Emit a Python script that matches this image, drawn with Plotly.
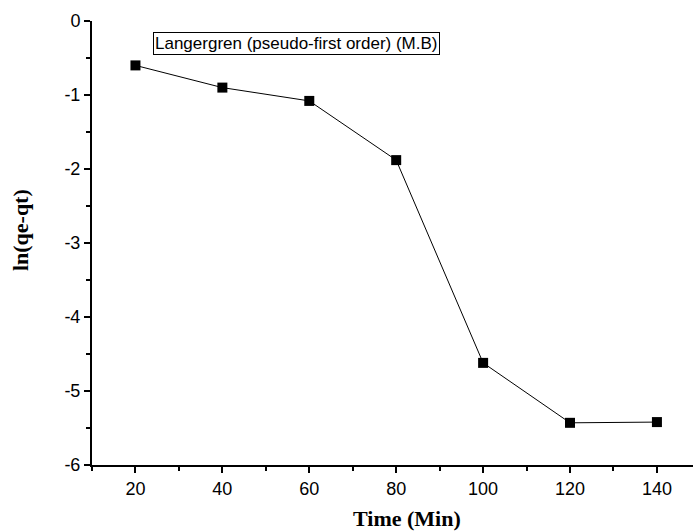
import plotly.graph_objects as go

time_min = [20, 40, 60, 80, 100, 120, 140]
ln_qe_qt = [-0.60, -0.90, -1.08, -1.88, -4.62, -5.43, -5.42]
legend_label = "Langergren (pseudo-first order) (M.B)"
x_tick_vals = [20, 40, 60, 80, 100, 120, 140]
x_tick_text = ["20", "40", "60", "80", "100", "120", "140"]
y_tick_vals = [0, -1, -2, -3, -4, -5, -6]
y_tick_text = ["0", "-1", "-2", "-3", "-4", "-5", "-6"]

fig = go.Figure()
fig.add_trace(go.Scatter(
    x=time_min, y=ln_qe_qt, mode="lines+markers",
    line=dict(color="black", width=1),
    marker=dict(symbol="square", size=10, color="black"),
    showlegend=False,
))

fig.add_annotation(
    x=0.1015, y=0.950, xref="paper", yref="paper", xanchor="left", yanchor="middle",
    text=legend_label, showarrow=False,
    font=dict(family="Arial, Liberation Sans", size=17, color="black"),
    bordercolor="black", borderwidth=1, borderpad=1, bgcolor="white",
)

title_font = dict(family="Times New Roman, Liberation Serif", size=22, color="black")
tick_font = dict(family="Arial, Liberation Sans", size=18, color="black")

fig.add_annotation(
    x=0.524, y=-0.12, xref="paper", yref="paper", xanchor="center", yanchor="middle",
    text="<b>Time (Min)</b>", showarrow=False, font=title_font,
)
fig.add_annotation(
    x=-0.1198, y=0.529, xref="paper", yref="paper", xanchor="center", yanchor="middle",
    text="<b>ln(qe-qt)</b>", showarrow=False, font=title_font, textangle=-90,
)

fig.update_layout(
    width=693, height=532,
    margin=dict(l=92, r=0, t=21, b=67),
    paper_bgcolor="white", plot_bgcolor="white",
    xaxis=dict(
        range=[10, 148.3], tickmode="array", tickvals=x_tick_vals, ticktext=x_tick_text,
        showgrid=False, zeroline=False,
        showline=True, linecolor="black", linewidth=2,
        ticks="outside", ticklen=6, tickwidth=2, tickcolor="black",
        minor=dict(ticks="outside", ticklen=4, tickwidth=2, tickcolor="black",
                   tickmode="linear", dtick=10, tick0=0, showgrid=False),
        tickfont=tick_font,
    ),
    yaxis=dict(
        range=[-6, 0], tickmode="array", tickvals=y_tick_vals, ticktext=y_tick_text,
        showgrid=False, zeroline=False,
        showline=True, linecolor="black", linewidth=2,
        ticks="outside", ticklen=6, tickwidth=2, tickcolor="black",
        minor=dict(ticks="outside", ticklen=4, tickwidth=2, tickcolor="black",
                   tickmode="linear", dtick=0.5, tick0=0, showgrid=False),
        tickfont=tick_font,
    ),
)

fig.write_html("out.html")
